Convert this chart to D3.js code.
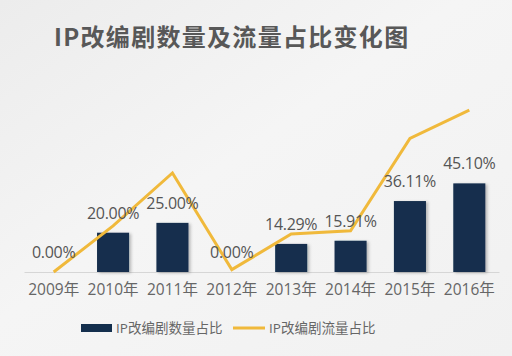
<!DOCTYPE html>
<html>
<head>
<meta charset="utf-8">
<script src="https://cdn.jsdelivr.net/npm/d3@7"></script>
<style>
  html, body { margin: 0; padding: 0; background: #f2f2f2; }
  svg { display: block; }
</style>
</head>
<body>
<svg id="chart" width="512" height="356"></svg>
<script>
const years = ["2009年","2010年","2011年","2012年","2013年","2014年","2015年","2016年"];
const countShare = [0, 20.00, 25.00, 0, 14.29, 15.91, 36.11, 45.10];
const flowShare = [0, 23.5, 50.4, 1.2, 19.3, 21.0, 68.0, 82.4];
const countLabels = ["0.00%","20.00%","25.00%","0.00%","14.29%","15.91%","36.11%","45.10%"];
const titleText = "IP改编剧数量及流量占比变化图";
const legendNames = ["IP改编剧数量占比", "IP改编剧流量占比"];

const svg = d3.select("#chart");
const W = 512, H = 356;

const defs = svg.append("defs");
const bg = defs.append("linearGradient").attr("id","bg").attr("x1","0").attr("y1","0").attr("x2","1").attr("y2","1");
bg.append("stop").attr("offset","0").attr("stop-color","#ececec");
bg.append("stop").attr("offset","0.45").attr("stop-color","#f5f5f5");
bg.append("stop").attr("offset","1").attr("stop-color","#f1f1f1");
const sh = defs.append("filter").attr("id","shadow").attr("x","-20%").attr("y","-20%").attr("width","150%").attr("height","140%");
sh.append("feDropShadow").attr("dx",2).attr("dy",1).attr("stdDeviation",1.5).attr("flood-color","#000").attr("flood-opacity",0.25);

svg.append("rect").attr("width",W).attr("height",H).attr("fill","url(#bg)");

const barColor = "#142f4d";
const lineColor = "#f0b93b";
const fontStack = "'Open Sans','Noto Sans CJK SC',sans-serif";

// title
svg.append("text")
  .attr("x",54).attr("y",46)
  .attr("font-family","'Noto Sans CJK SC','Noto Sans',sans-serif")
  .attr("font-weight","bold").attr("font-size",24)
  .attr("letter-spacing",1.3)
  .attr("fill","#585858")
  .text(titleText);

const x = d3.scaleBand().domain(years).range([24, 499]).paddingInner(0.46).paddingOuter(0.23);
const y = d3.scaleLinear().domain([0, 100]).range([272, 75.5]);

// axis
const xAxis = d3.axisBottom(x).tickSize(0).tickPadding(12);
const gx = svg.append("g").attr("transform","translate(0,272)").call(xAxis);
gx.select(".domain").attr("stroke","#d6d6d6").attr("stroke-width",1);
gx.selectAll("text").attr("font-family",fontStack).attr("font-size",15.5).attr("fill","#666");

// bars
svg.append("g").selectAll("rect").data(years).join("rect")
  .attr("x", d => x(d))
  .attr("y", (d,i) => y(countShare[i]))
  .attr("width", x.bandwidth())
  .attr("height", (d,i) => y(0) - y(countShare[i]))
  .attr("fill", barColor)
  .attr("filter","url(#shadow)");

// line
const line = d3.line()
  .x((d,i) => x(years[i]) + x.bandwidth()/2)
  .y(d => y(d));
svg.append("path").datum(flowShare)
  .attr("d", line)
  .attr("fill","none")
  .attr("stroke", lineColor)
  .attr("stroke-width",3)
  .attr("stroke-linejoin","miter");

// labels
svg.append("g").selectAll("text").data(years).join("text")
  .attr("x", d => x(d) + x.bandwidth()/2)
  .attr("y", (d,i) => y(countShare[i]) - 14)
  .attr("text-anchor","middle")
  .attr("font-family",fontStack).attr("font-size",16)
  .attr("letter-spacing",-0.3)
  .attr("fill","#555")
  .text((d,i) => countLabels[i]);

// legend
const lg = svg.append("g");
lg.append("rect").attr("x",81).attr("y",324).attr("width",31).attr("height",8).attr("fill",barColor);
lg.append("text").attr("x",116).attr("y",333).attr("font-family",fontStack).attr("font-size",13.5).attr("fill","#666").text(legendNames[0]);
lg.append("line").attr("x1",233).attr("x2",265).attr("y1",328).attr("y2",328).attr("stroke",lineColor).attr("stroke-width",3);
lg.append("text").attr("x",269).attr("y",333).attr("font-family",fontStack).attr("font-size",13.5).attr("fill","#666").text(legendNames[1]);
</script>
</body>
</html>
